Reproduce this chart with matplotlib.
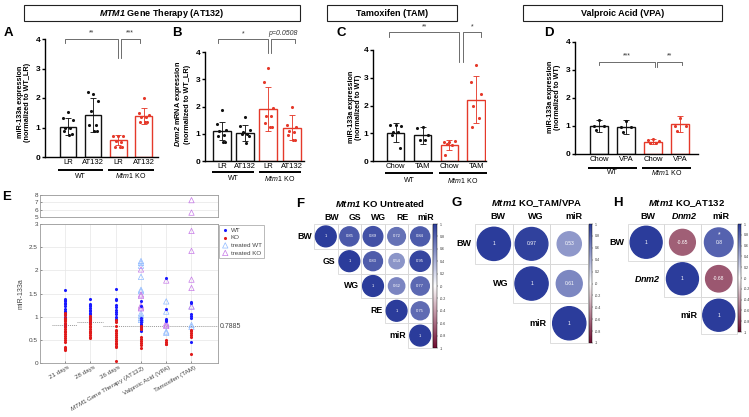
import numpy as np
import matplotlib
matplotlib.use('Agg')
import matplotlib.pyplot as plt
from matplotlib.patches import Rectangle, Ellipse
from matplotlib.colors import LinearSegmentedColormap, Normalize
from matplotlib.colorbar import ColorbarBase
from matplotlib.transforms import ScaledTranslation

plt.rcParams['font.family'] = ['Liberation Sans', 'DejaVu Sans']
plt.rcParams['mathtext.fontset'] = 'custom'
plt.rcParams['mathtext.rm'] = 'Liberation Sans'
plt.rcParams['mathtext.it'] = 'Liberation Sans:italic'
plt.rcParams['mathtext.bf'] = 'Liberation Sans:bold'
plt.rcParams['mathtext.bfit'] = 'Liberation Sans:italic:bold'

# ---------------- data ----------------
# bar panels (WT ctrl, WT treated, KO ctrl, KO treated)
a_ticks = ['LR', 'AT132', 'LR', 'AT132']
a_mean = [1.02, 1.42, 0.57, 1.40]
a_sd = [0.29, 0.57, 0.17, 0.27]
a_pts = [[1.53, 1.31, 1.25, 0.99, 0.98, 0.88, 0.77, 0.76],
         [2.14, 2.19, 1.91, 1.57, 1.08, 1.08, 0.89, 0.88],
         [0.72, 0.72, 0.72, 0.55, 0.51, 0.34, 0.34, 0.34],
         [2.01, 1.48, 1.42, 1.36, 1.36, 1.19, 1.17, 1.17]]

b_ticks = ['LR', 'AT132', 'LR', 'AT132']
b_mean = [1.10, 1.03, 1.92, 1.22]
b_sd = [0.33, 0.28, 0.81, 0.46]
b_pts = [[1.88, 1.35, 1.15, 1.10, 0.94, 0.90, 0.70, 0.70],
         [1.61, 1.27, 1.15, 1.05, 1.00, 0.98, 0.92, 0.66],
         [3.42, 2.90, 1.96, 1.64, 1.64, 1.40, 1.25, 1.25],
         [2.00, 1.31, 1.25, 1.10, 1.06, 0.94, 0.78, 0.76]]

c_ticks = ['Chow', 'TAM', 'Chow', 'TAM']
c_mean = [1.02, 0.93, 0.57, 2.21]
c_sd = [0.34, 0.31, 0.18, 0.85]
c_pts = [[1.30, 1.30, 1.26, 1.05, 1.05, 0.93, 0.47],
         [1.21, 1.19, 0.93, 0.76, 0.77],
         [0.69, 0.69, 0.73, 0.60, 0.57, 0.21],
         [3.45, 2.84, 2.42, 1.99, 1.55, 1.21]]

d_ticks = ['Chow', 'VPA', 'Chow', 'VPA']
d_mean = [1.00, 0.97, 0.44, 1.06]
d_sd = [0.22, 0.24, 0.10, 0.28]
d_pts = [[1.20, 1.00, 1.00, 0.85],
         [1.19, 0.97, 0.97, 0.80],
         [0.52, 0.50, 0.47, 0.40, 0.40],
         [1.30, 1.00, 1.00, 0.82]]

# panel E (miR-133a per cohort)
e_cats = ['21 days', '28 days', '36 days', r'$\mathit{MTM1}$ Gene Therapy (AT132)',
          'Valproic Acid (VPA)', 'Tamoxifen (TAM)']
e_wt = [[1.57, 1.38, 1.36, 1.33, 1.30, 1.27, 1.22, 1.16, 1.13, 1.10, 1.05, 1.00, 0.97, 0.94, 0.85, 0.80],
        [1.39, 1.28, 1.25, 1.22, 1.18, 1.15, 1.12, 1.08, 1.05, 1.02, 0.98, 0.95, 0.92, 0.88],
        [1.60, 1.39, 1.36, 1.25, 1.20, 1.15, 1.10, 1.05, 1.00, 0.96, 0.93],
        [1.33, 1.23, 0.97, 0.92, 0.88, 0.85, 0.82, 0.78, 0.74, 0.70],
        [1.84, 1.16, 0.96, 0.92, 0.90],
        [1.32, 1.29, 1.05, 1.01, 0.97, 0.45]]
e_ko = [[1.08, 1.03, 0.98, 0.95, 0.92, 0.90, 0.86, 0.82, 0.78, 0.74, 0.70, 0.66, 0.62, 0.58, 0.55,
         0.50, 0.46, 0.35, 0.32, 0.30, 0.27],
        [1.02, 0.98, 0.95, 0.92, 0.90, 0.87, 0.84, 0.80, 0.77, 0.74, 0.70, 0.67, 0.64, 0.60, 0.57, 0.53],
        [0.92, 0.88, 0.80, 0.72, 0.68, 0.64, 0.60, 0.56, 0.52, 0.48, 0.44, 0.40, 0.36, 0.34, 0.04],
        [0.80, 0.76, 0.73, 0.56, 0.52, 0.47, 0.43, 0.38, 0.33],
        [0.50, 0.46, 0.42, 0.40],
        [0.72, 0.68, 0.64, 0.60, 0.56, 0.19]]
e_twt = [[], [], [],
         [2.20, 2.16, 2.10, 1.86, 1.58, 1.55, 1.07, 1.02, 0.97, 0.93],
         [1.33, 1.11, 0.68, 0.65],
         [1.22, 0.82, 0.78]]
e_tko = [[], [], [],
         [2.02, 1.48, 1.45, 1.24, 1.20, 1.18],
         [1.78, 0.86, 0.82, 0.80],
         [7.3, 5.6, 2.85, 2.42, 1.80, 1.62, 1.22]]
e_ref = [0.81, 0.876, 0.7885]
e_ref_span = [(0.48, 1.48), (1.48, 2.48), (2.48, 7.05)]

# correlation panels (upper triangle rows)
f_labels = ['BW', 'GS', 'WG', 'RE', 'miR']
f_vals = [[1, 0.85, 0.89, 0.72, 0.84], [1, 0.83, 0.54, 0.95], [1, 0.62, 0.77], [1, 0.75], [1]]
g_labels = ['BW', 'WG', 'miR']
g_vals = [[1, 0.97, 0.53], [1, 0.61], [1]]
h_labels = ['BW', r'$\mathbfit{Dnm2}$', 'miR']
h_vals = [[1, -0.65, 0.8], [1, -0.68], [1]]
h_star = [(0, 2)]

BLACK = '#111111'
RED = '#E5392A'

W, H = 749, 417
fig = plt.figure(figsize=(W / 100, H / 100), dpi=100)


def axes_px(l, t, r, b):
    return fig.add_axes([l / W, 1 - b / H, (r - l) / W, (b - t) / H])


def ftext(x, y, s, **kw):
    fig.text(x / W, 1 - y / H, s, **kw)


# header boxes
for (l, r, s) in [(24, 300, r'$\mathbfit{MTM1}$ Gene Therapy (AT132)'),
                  (327, 457, 'Tamoxifen (TAM)'),
                  (523, 722, 'Valproic Acid (VPA)')]:
    fig.patches.append(Rectangle((l / W, 1 - 21 / H), (r - l) / W, 16 / H, fill=False,
                                 ec='#222222', lw=0.8, transform=fig.transFigure))
    ftext((l + r) / 2, 13.5, s, ha='center', va='center', fontsize=6.5, fontweight='bold')

# panel letters
for (x, y, s) in [(8, 33, 'A'), (177, 33, 'B'), (341, 33, 'C'), (549, 33, 'D'),
                  (7, 197, 'E'), (300, 204, 'F'), (457, 203, 'G'), (618, 203, 'H')]:
    ftext(x, y, s, ha='center', va='center', fontsize=9.5, fontweight='bold')

JIT = np.array([0, -0.2, 0.2, -0.1, 0.1, -0.15, 0.15, 0.05])


def bar_panel(box, xlim, width, ticks, means, sds, pts, line_dy, label_dy, brackets):
    ax = axes_px(*box)
    cols = [BLACK, BLACK, RED, RED]
    x = np.arange(4)
    for i in range(4):
        ax.bar(x[i], means[i], width, color='white', edgecolor=cols[i], linewidth=1.0, zorder=2)
        ax.errorbar(x[i], means[i], yerr=sds[i], color=cols[i], capsize=2.2, lw=0.7,
                    capthick=0.7, zorder=3, alpha=0.9)
        ax.scatter(x[i] + JIT[:len(pts[i])], pts[i], s=5, color=cols[i], zorder=4, linewidths=0)
    ax.set_xlim(xlim)
    ax.set_ylim(0, 4)
    ax.set_yticks([0, 1, 2, 3, 4])
    ax.set_xticks(x, ticks)
    for sp in ['top', 'right']:
        ax.spines[sp].set_visible(False)
    for sp in ['left', 'bottom']:
        ax.spines[sp].set_linewidth(1.0)
    ax.tick_params(axis='x', length=0, pad=1.5, labelsize=5.5)
    ax.tick_params(axis='y', length=2.5, width=1.0, labelsize=6, pad=1.0)
    for lab in ax.get_yticklabels():
        lab.set_fontweight('bold')
    t1 = ax.get_xaxis_transform() + ScaledTranslation(0, -line_dy / 100, fig.dpi_scale_trans)
    t2 = ax.get_xaxis_transform() + ScaledTranslation(0, -label_dy / 100, fig.dpi_scale_trans)
    for (g0, g1, s) in [(-0.4, 1.4, 'WT'), (1.6, 3.4, r'$\mathit{Mtm1}$ KO')]:
        ax.plot([g0, g1], [0, 0], color='k', lw=1.4, transform=t1, clip_on=False,
                solid_capstyle='butt')
        ax.text((g0 + g1) / 2, 0, s, transform=t2, ha='center', va='center', fontsize=5)
    for (s, x0, x1, y, l0, l1, it) in brackets:
        ax.plot([x0, x0, x1, x1], [l0, y, y, l1], color='#555555', lw=0.6, clip_on=False)
        ax.text((x0 + x1) / 2, y + 0.08, s, ha='center', va='bottom', fontsize=5,
                style='italic' if it else 'normal', color='#333333', clip_on=False)
    return ax


bar_panel((45, 39, 158, 157), (-0.9, 3.57), 0.65, a_ticks, a_mean, a_sd, a_pts, 13, 19,
          [('**', -0.1, 1.97, 4.0, 3.85, 3.35, False), ('***', 2.1, 2.85, 4.0, 3.35, 3.85, False)])
bar_panel((205, 52, 304, 161), (-0.72, 3.53), 0.77, b_ticks, b_mean, b_sd, b_pts, 11, 17,
          [('*', -0.15, 1.99, 4.47, 4.32, 3.95, False),
           ('p=0.0508', 2.10, 3.14, 4.47, 3.95, 4.32, True)])
bar_panel((373, 50, 486, 161), (-0.85, 3.37), 0.65, c_ticks, c_mean, c_sd, c_pts, 12, 19,
          [('**', -0.24, 2.37, 4.64, 4.48, 3.58, False), ('*', 2.50, 3.18, 4.64, 3.58, 4.48, False)])
bar_panel((575, 42, 698, 154), (-0.89, 3.66), 0.68, d_ticks, d_mean, d_sd, d_pts, 14, 19,
          [('***', 0.01, 2.07, 3.30, 3.18, 3.12, False), ('**', 2.14, 3.06, 3.30, 3.12, 3.18, False)])

ylab_kw = dict(rotation=90, ha='center', va='center', fontsize=5.2, fontweight='bold',
               linespacing=1.15)
ftext(24, 102, 'miR-133a expression\n(normalized to WT_LR)', **ylab_kw)
ftext(182, 104, r'$\mathbfit{Dnm2}$ mRNA expression' + '\n(normalized to WT_LR)', **ylab_kw)
ftext(355, 107, 'miR-133a expression\n(normalized to WT)', **ylab_kw)
ftext(554, 97, 'miR-133a expression\n(normalized to WT)', **ylab_kw)

# ---------------- panel E ----------------
C_WT, C_KO, C_TWT, C_TKO = '#1a1aff', '#e01b1b', '#8fbaff', '#c77ae8'
GRAY = '#444444'
axu = axes_px(40, 195, 218, 217)
axl = axes_px(40, 224, 218, 363)
xs = np.arange(1, 7)
for ax in (axu, axl):
    for i, xv in enumerate(xs):
        ax.scatter([xv] * len(e_wt[i]), e_wt[i], s=5, color=C_WT, linewidths=0, zorder=3)
        ax.scatter([xv] * len(e_ko[i]), e_ko[i], s=5, color=C_KO, linewidths=0, zorder=3)
        ax.scatter([xv] * len(e_twt[i]), e_twt[i], s=15, marker='^', facecolors='none',
                   edgecolors=C_TWT, linewidths=0.5, zorder=2)
        ax.scatter([xv] * len(e_tko[i]), e_tko[i], s=15, marker='^', facecolors='none',
                   edgecolors=C_TKO, linewidths=0.5, zorder=2)
    ax.set_xlim(0, 7.05)
    for sp in ax.spines.values():
        sp.set_color('#9a9a9a')
        sp.set_linewidth(0.6)
    ax.tick_params(labelsize=4.6, colors=GRAY, length=1.5, width=0.4, direction='in', pad=1.5)
    ax.grid(True, color='#e6e6e6', lw=0.5)
    ax.set_axisbelow(True)
axu.set_ylim(5, 8)
axu.set_yticks([5, 6, 7, 8])
axu.set_xticks([])
axl.set_ylim(0, 3)
axl.set_yticks(np.arange(0, 3.01, 0.5), ['0', '0.5', '1', '1.5', '2', '2.5', '3'])
axl.set_xticks(xs, e_cats, rotation=30, ha='right', va='center', rotation_mode='anchor')
axl.tick_params(axis='x', labelsize=4.5, pad=0)
for lab in axl.get_xticklabels():
    lab.set_transform(lab.get_transform() + ScaledTranslation(0.04, -0.04, fig.dpi_scale_trans))
axl.set_ylabel('miR-133a', fontsize=5, color=GRAY, labelpad=3)
for (v, (x0, x1)) in zip(e_ref, e_ref_span):
    axl.plot([x0, x1], [v, v], color='#999999', lw=0.7, ls=(0, (1, 1)), zorder=1)
axl.text(7.12, e_ref[-1], '0.7885', fontsize=5, color=GRAY, va='center', ha='left')
h1 = axl.scatter([], [], s=5, color=C_WT, linewidths=0)
h2 = axl.scatter([], [], s=5, color=C_KO, linewidths=0)
h3 = axl.scatter([], [], s=15, marker='^', facecolors='none', edgecolors=C_TWT, linewidths=0.5)
h4 = axl.scatter([], [], s=15, marker='^', facecolors='none', edgecolors=C_TKO, linewidths=0.5)
leg = fig.legend([h1, h2, h3, h4], ['WT', 'KO', 'treated WT', 'treated KO'],
                 loc='upper left', bbox_to_anchor=(219 / W, 1 - 225 / H), fontsize=4.5,
                 frameon=True, fancybox=False, borderpad=0.4, handletextpad=0.3,
                 labelspacing=0.35, handlelength=1.2, borderaxespad=0)
leg.get_frame().set_edgecolor('#9a9a9a')
leg.get_frame().set_linewidth(0.6)
for t in leg.get_texts():
    t.set_color(GRAY)

# ---------------- correlation panels ----------------
cmap = LinearSegmentedColormap.from_list('corr', ['#6E0A2E', '#FFFFFF', '#2B3C9B'])
norm = Normalize(-1, 1)


def corr_panel(l, t, cw, ch, labels, vals, col_off, fs_lab, fs_val, cbar, title, tx, stars=()):
    n = len(labels)
    ax = axes_px(l, t, l + n * cw, t + n * ch)
    ax.set_xlim(0, n)
    ax.set_ylim(n, 0)
    ax.axis('off')
    for i in range(n):
        for k, r in enumerate(vals[i]):
            j = i + k
            ax.add_patch(Rectangle((j, i), 1, 1, fill=False, ec='#d8d8d8', lw=0.6, clip_on=False))
            d = 0.88 * np.sqrt(abs(r))
            ax.add_patch(Ellipse((j + 0.5, i + 0.5), d, d * cw / ch, color=cmap(norm(r))))
            ax.text(j + 0.5, i + 0.5, f'{r:g}', color='white', ha='center', va='center',
                    fontsize=fs_val)
            if (i, j) in stars:
                ax.text(j + 0.5, i + 0.3, '*', color='white', ha='center', va='center',
                        fontsize=fs_val + 1.5)
        ax.text(i - 0.1, i + 0.5, labels[i], ha='right', va='center', fontsize=fs_lab,
                fontweight='bold', clip_on=False)
        ax.text(i + 0.5 + col_off, -0.08, labels[i], ha='center', va='bottom', fontsize=fs_lab,
                fontweight='bold', clip_on=False)
    cax = axes_px(*cbar)
    cb = ColorbarBase(cax, cmap=cmap, norm=norm, ticks=np.round(np.arange(-1, 1.01, 0.2), 1))
    cb.outline.set_linewidth(0.3)
    cb.ax.tick_params(labelsize=2.6, length=1, width=0.3, pad=0.8, colors='#333333')
    cb.ax.set_yticklabels([f'{v:g}' for v in np.round(np.arange(-1, 1.01, 0.2), 1)])
    ftext(tx, 203, title, ha='center', va='center', fontsize=6.8, fontweight='bold')


corr_panel(314, 224, 23.6, 24.8, f_labels, f_vals, 0.25, 6.3, 3.0,
           (433, 224, 437, 348), r'$\mathbfit{Mtm1}$ KO Untreated', 380)
corr_panel(475, 224, 37.7, 39.7, g_labels, g_vals, 0.12, 6.5, 3.6,
           (589, 224, 592, 343), r'$\mathbfit{Mtm1}$ KO_TAM/VPA', 537)
corr_panel(628, 224, 36.3, 36.5, h_labels, h_vals, 0.05, 6.5, 3.6,
           (738, 224, 741, 332), r'$\mathbfit{Mtm1}$ KO_AT132', 687, stars=h_star)

fig.savefig('out.png', dpi=100)
